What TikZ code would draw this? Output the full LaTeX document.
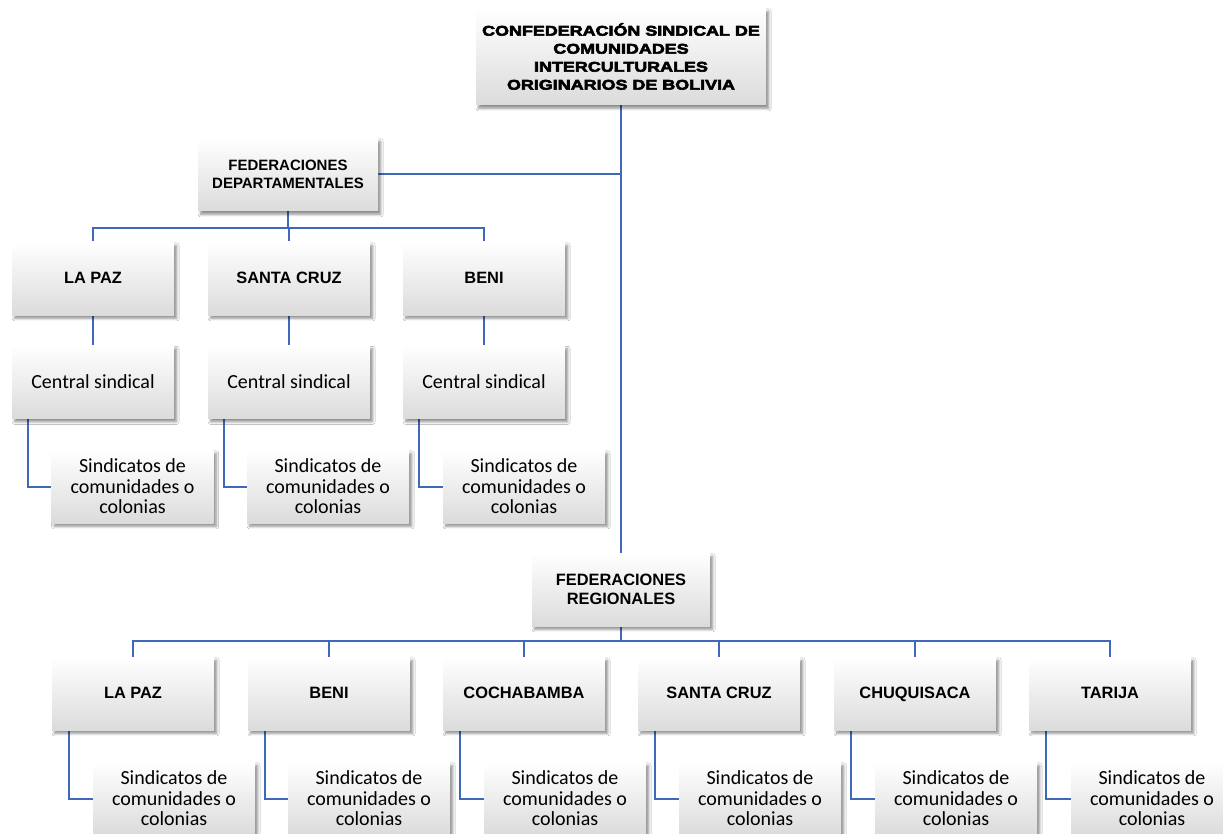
\documentclass[tikz,border=0pt]{standalone}
\usepackage{fontspec}
\setmainfont{Carlito}
\newfontfamily\arialb{Liberation Sans Bold}
\newfontfamily\arialblack[FakeStretch=1.28,FakeBold=4]{Liberation Sans Bold}
\usetikzlibrary{shadows.blur,calc}
\pgfdeclarelayer{background}
\pgfsetlayers{background,main}
\definecolor{conn}{RGB}{62,104,186}
\tikzset{
  box/.style={rectangle, inner sep=0pt, top color=white, bottom color=black!14, align=center,
    blur shadow={shadow xshift=2pt, shadow yshift=-2.5pt, shadow blur steps=6, shadow opacity=45}},
  titlebox/.style={box, minimum width=121.5pt, minimum height=54.75pt, font=\arialb\fontsize{12.3}{14}\selectfont},
  rowbox/.style={titlebox, text height=8.9pt, text depth=1pt},
  textbox/.style={box, minimum width=121.5pt, minimum height=54.75pt, font=\fontsize{15}{15.4}\selectfont},
  link/.style={draw=conn, line width=1.5pt},
}
\begin{document}
\begin{tikzpicture}[x=0.75pt,y=-0.75pt]
\useasboundingbox (0,0) rectangle (1223,834);
% top
\node[box, minimum width=217.5pt, minimum height=72.75pt, font=\arialblack\fontsize{10.5}{13.5}\selectfont] (top) at (621,56.5)
  {CONFEDERACIÓN SINDICAL DE\\COMUNIDADES\\INTERCULTURALES\\ORIGINARIOS DE BOLIVIA};
% departmental
\node[titlebox, minimum width=135pt, font=\arialb\fontsize{11.25}{14}\selectfont] (dept) at (288,174.5) {FEDERACIONES\\DEPARTAMENTALES};
\node[rowbox] (dlp) at (93,278.5) {LA PAZ};
\node[rowbox] (dsc) at (289,278.5) {SANTA CRUZ};
\node[rowbox] (dbe) at (484,278.5) {BENI};
\node[textbox] (clp) at (93,382) {Central sindical};
\node[textbox] (csc) at (289,382) {Central sindical};
\node[textbox] (cbe) at (484,382) {Central sindical};
\node[textbox] (slp) at (132.5,486.5) {Sindicatos de\\comunidades o\\colonias};
\node[textbox] (ssc) at (328,486.5) {Sindicatos de\\comunidades o\\colonias};
\node[textbox] (sbe) at (524,486.5) {Sindicatos de\\comunidades o\\colonias};
% regional
\node[titlebox, minimum width=133.5pt] (reg) at (621,589.5) {FEDERACIONES\\REGIONALES};
\node[rowbox] (rlp) at (133,693.5) {LA PAZ};
\node[rowbox] (rbe) at (329,693.5) {BENI};
\node[rowbox] (rco) at (524,693.5) {COCHABAMBA};
\node[rowbox] (rsc) at (719,693.5) {SANTA CRUZ};
\node[rowbox] (rch) at (915,693.5) {CHUQUISACA};
\node[rowbox] (rta) at (1110,693.5) {TARIJA};
\node[textbox] (tlp) at (174,798.5) {Sindicatos de\\comunidades o\\colonias};
\node[textbox] (tbe) at (369,798.5) {Sindicatos de\\comunidades o\\colonias};
\node[textbox] (tco) at (565,798.5) {Sindicatos de\\comunidades o\\colonias};
\node[textbox] (tsc) at (760,798.5) {Sindicatos de\\comunidades o\\colonias};
\node[textbox] (tch) at (956,798.5) {Sindicatos de\\comunidades o\\colonias};
\node[textbox] (tta) at (1152,798.5) {Sindicatos de\\comunidades o\\colonias};
\coordinate (dbus) at (288,228);
\coordinate (rbus) at (621,641);
\begin{pgfonlayer}{background}
\fill[white] (0,0) rectangle (1223,834);
\draw[link] (top.south) -- (reg.north);
\draw[link] (dept.east) -- (dept.east -| top.south);
\draw[link] (dept.south) -- (dbus);
\draw[link] (dlp.north) |- (dbus) -| (dbe.north);
\draw[link] (dsc.north) -- (dsc.north |- dbus);
\foreach \a/\b/\c in {dlp/clp/slp, dsc/csc/ssc, dbe/cbe/sbe}{
  \draw[link] (\a.south) -- (\b.north);
  \draw[link] ($(\b.south west)+(16,0)$) |- (\c.west);
}
\draw[link] (reg.south) -- (rbus);
\draw[link] (rlp.north) |- (rbus) -| (rta.north);
\foreach \a in {rbe,rco,rsc,rch}{
  \draw[link] (\a.north) -- (\a.north |- rbus);
}
\foreach \a/\c in {rlp/tlp, rbe/tbe, rco/tco, rsc/tsc, rch/tch, rta/tta}{
  \draw[link] ($(\a.south west)+(17,0)$) |- (\c.west);
}
\end{pgfonlayer}
\end{tikzpicture}
\end{document}
